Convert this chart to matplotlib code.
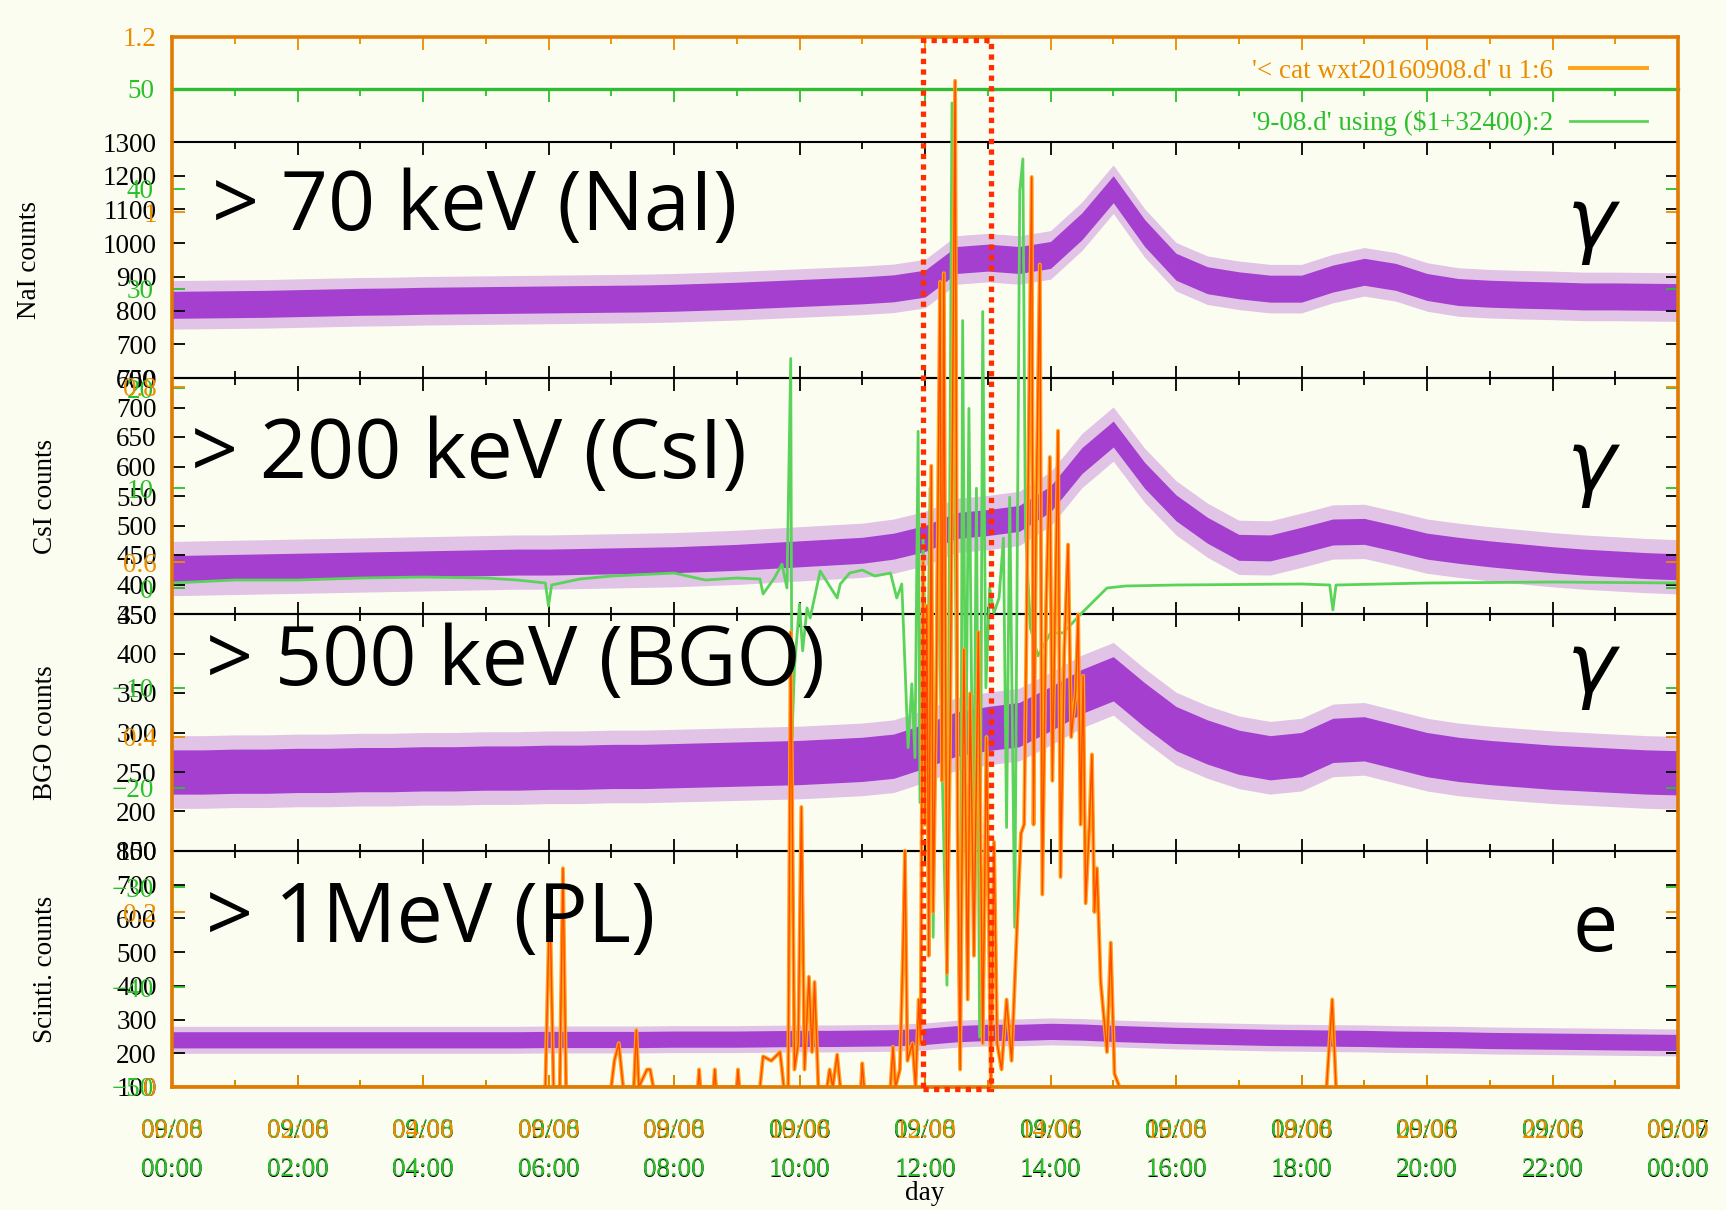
import numpy as np
import matplotlib
matplotlib.use('Agg')
import matplotlib.pyplot as plt
from matplotlib.patches import Rectangle

# --- counts, half-hour grid (0:00 .. 24:00) ---
hours = np.arange(0, 24.5, 0.5)
nai_counts = [817, 818, 819, 820, 822, 824, 826, 827, 829, 830,
              831, 832, 833, 834, 835, 836, 838, 841, 844, 848,
              852, 856, 860, 866, 880, 950, 957, 950, 965, 1050,
              1160, 1030, 930, 890, 875, 865, 865, 895, 915, 900,
              870, 855, 850, 847, 845, 842, 842, 841, 840]
csi_counts = [427, 428, 429, 430, 431, 432, 433, 434, 435, 436,
              437, 438, 438, 439, 440, 441, 442, 444, 446, 449,
              452, 455, 458, 465, 478, 500, 505, 512, 545, 610,
              655, 585, 530, 492, 463, 462, 475, 489, 490, 478,
              465, 458, 452, 447, 442, 438, 435, 432, 430]
bgo_counts = [250, 250, 251, 251, 252, 252, 253, 253, 254, 254,
              255, 255, 256, 256, 257, 257, 258, 259, 260, 261,
              262, 264, 266, 270, 283, 298, 305, 310, 330, 352,
              368, 335, 305, 288, 275, 268, 272, 290, 292, 282,
              272, 266, 262, 259, 256, 254, 252, 250, 249]
pl_counts = [240, 240, 240, 240, 240, 240, 240, 240, 240, 240,
             240, 240, 241, 241, 241, 241, 242, 242, 242, 243,
             244, 244, 245, 246, 250, 258, 262, 262, 265, 263,
             259, 256, 253, 251, 249, 247, 246, 245, 244, 242,
             241, 240, 238, 237, 236, 235, 234, 233, 232]
# scatter of the counts: dense core and spike extent
core_width = [40, 22, 28, 24]
spike_width = [72, 46, 46, 40]

# --- weather station column 6 (hours, value) ---
rain_t = [0.0, 5.95, 6.02, 6.08, 6.18, 6.23, 6.28,
          7.0, 7.05, 7.12, 7.19, 7.36, 7.40, 7.44, 7.57, 7.62, 7.67,
          8.38, 8.40, 8.42, 8.63, 8.65, 8.67, 9.0, 9.02, 9.04,
          9.37, 9.42, 9.55, 9.69, 9.75, 9.82, 9.86, 9.92, 9.98, 10.03,
          10.08, 10.15, 10.2, 10.24, 10.3, 10.44, 10.48, 10.53, 10.6, 10.65,
          10.98, 11.0, 11.03, 11.45, 11.49, 11.53, 11.6, 11.65, 11.68, 11.72,
          11.8, 11.85,
          11.90, 11.93, 11.97, 12.00, 12.03, 12.06, 12.10, 12.13, 12.18, 12.24,
          12.27, 12.30, 12.35, 12.40, 12.48, 12.52, 12.56, 12.62, 12.68, 12.72,
          12.78, 12.85, 12.92, 12.98, 13.05, 13.10, 13.15, 13.22, 13.30, 13.38,
          13.47, 13.53, 13.58, 13.63, 13.70, 13.73, 13.77, 13.83, 13.87, 13.93,
          13.99, 14.03, 14.12, 14.16, 14.22, 14.28, 14.33, 14.40, 14.44, 14.48,
          14.52, 14.56, 14.62, 14.66, 14.70, 14.74, 14.80, 14.90, 14.96, 15.02,
          15.10, 18.40, 18.49, 18.55, 24.0]
rain_v = [0.0, 0.0, 0.22, 0.0, 0.0, 0.25, 0.0,
          0.0, 0.03, 0.05, 0.0, 0.0, 0.065, 0.0, 0.02, 0.02, 0.0,
          0.0, 0.02, 0.0, 0.0, 0.02, 0.0, 0.0, 0.02, 0.0,
          0.0, 0.035, 0.03, 0.04, 0.0, 0.0, 0.52, 0.02, 0.05, 0.32,
          0.02, 0.126, 0.04, 0.12, 0.0, 0.0, 0.02, 0.0, 0.037, 0.0,
          0.0, 0.027, 0.0, 0.0, 0.046, 0.0, 0.02, 0.157, 0.27, 0.03,
          0.05, 0.0,
          0.10, 0.05, 0.60, 0.30, 0.55, 0.15, 0.71, 0.20, 0.45, 0.92,
          0.35, 0.93, 0.13, 0.40, 1.15, 0.30, 0.02, 0.50, 0.10, 0.45,
          0.15, 0.52, 0.05, 0.40, 0.00, 0.28, 0.05, 0.02, 0.10, 0.03,
          0.19, 0.29, 0.30, 0.60, 1.04, 0.30, 0.65, 0.94, 0.22, 0.55,
          0.72, 0.35, 0.75, 0.24, 0.50, 0.62, 0.40, 0.45, 0.54, 0.30,
          0.47, 0.21, 0.30, 0.38, 0.20, 0.25, 0.12, 0.04, 0.165, 0.015,
          0.0, 0.0, 0.10, 0.0, 0.0]

# --- field mill column 2, shifted to JST (hours, value) ---
field_t = [0.0, 1.0, 2.0, 3.0, 4.0, 5.0, 5.5, 5.95, 6.0, 6.05,
           6.5, 7.0, 8.0, 8.5, 9.0, 9.37, 9.42, 9.6, 9.72, 9.80,
           9.86, 9.88, 9.92, 10.0, 10.05, 10.12, 10.17, 10.33, 10.6, 10.65,
           10.8, 11.0, 11.2, 11.45, 11.55, 11.63, 11.68, 11.73, 11.79, 11.84,
           11.89, 11.92, 11.97, 12.03, 12.08, 12.13, 12.20, 12.28, 12.35, 12.43,
           12.50, 12.56, 12.60, 12.65, 12.70, 12.77, 12.82, 12.87, 12.92, 12.97,
           13.03, 13.10, 13.18, 13.25, 13.30, 13.35, 13.43, 13.51, 13.56, 13.60,
           13.68, 13.80, 14.0, 14.2, 14.5, 14.9, 15.2, 16.0, 18.0, 18.45,
           18.5, 18.55, 20.0, 22.0, 24.0]
field_v = [0.5, 0.8, 0.8, 1.0, 1.1, 1.0, 0.8, 0.5, -1.8, 0.3,
           0.9, 1.2, 1.5, 0.8, 1.0, 0.9, -0.6, 1.0, 2.4, 0.0,
           23.0, -15.0, -8.0, -1.6, -6.3, -2.0, -3.0, 1.7, -1.0, 0.4,
           1.5, 1.8, 1.2, 1.5, -1.0, 0.4, -7.6, -16.0, -9.6, -17.0,
           15.7, -21.5, 5.0, -16.6, 10.0, -35.0, 5.0, -20.0, -39.8, 48.6,
           -10.0, -48.0, 26.8, -20.0, 18.0, -29.0, 10.0, -45.0, 27.7, -10.0,
           0.0, -2.5, -1.0, 5.0, -24.0, 9.1, -34.0, 39.8, 43.0, 6.0,
           -4.0, -6.8, -4.5, -4.5, -2.5, 0.0, 0.2, 0.3, 0.4, 0.3,
           -2.2, 0.3, 0.5, 0.6, 0.5]

tick_hours = list(range(0, 25, 2))
tick_times = ['00:00', '02:00', '04:00', '06:00', '08:00', '10:00', '12:00',
              '14:00', '16:00', '18:00', '20:00', '22:00', '00:00']
dates_counts = ['09/06'] * 12 + ['09/07']
dates_field = ['09/08'] * 12 + ['09/09']

panel_names = ['NaI counts', 'CsI counts', 'BGO counts', 'Scinti. counts']
panel_titles = ['> 70 keV (NaI)', '> 200 keV (CsI)', '> 500 keV (BGO)', '> 1MeV (PL)']
particle = ['γ', 'γ', 'γ', 'e']

BG = '#fcfdf1'
PURPLE = '#a43fcf'
GREEN_LINE = '#5bd35b'
GREEN_TXT = '#2cbf2c'
ORANGE = '#ffa31a'
ORANGE_TXT = '#ec8c00'
SERIF = 'Liberation Serif'
FS = 19.5
LSP = 1.75

plt.rcParams['font.family'] = [SERIF, 'DejaVu Serif']

W, H = 1726, 1210
LEFT, RIGHT = 172, 1678


def frame(top, bottom):
    return [LEFT / W, 1 - bottom / H, (RIGHT - LEFT) / W, (bottom - top) / H]


fig = plt.figure(figsize=(W / 100, H / 100), dpi=100)
fig.patch.set_facecolor(BG)

edges = [142, 378, 614, 851, 1087]
ylims = [(600, 1300), (350, 750), (150, 450), (100, 800)]
ysteps = [100, 50, 50, 100]
all_counts = [nai_counts, csi_counts, bgo_counts, pl_counts]
label_x = [30, 46, 46, 46]
title_pos = [(212, 230), (191, 478), (206, 685), (206, 942)]
sym_y = [225, 467, 669, 930]

for i in range(4):
    ax = fig.add_axes(frame(edges[i], edges[i + 1]))
    ax.set_facecolor('none')
    c = np.array(all_counts[i], dtype=float)
    ax.fill_between(hours, c - spike_width[i], c + spike_width[i],
                    color=PURPLE, alpha=0.3, lw=0)
    ax.fill_between(hours, c - core_width[i], c + core_width[i],
                    color=PURPLE, lw=0)
    lo, hi = ylims[i]
    ax.set_xlim(0, 24)
    ax.set_ylim(lo, hi)
    ax.set_yticks(np.arange(lo, hi + 1, ysteps[i]))
    ax.set_xticks(tick_hours)
    ax.set_xticks(range(25), minor=True)
    ax.tick_params(which='both', direction='in', top=True, right=True,
                   width=1.3, colors='black', labelsize=FS)
    ax.tick_params(which='major', length=9)
    ax.tick_params(which='minor', length=5)
    ax.tick_params(axis='y', pad=11)
    for sp in ax.spines.values():
        sp.set_linewidth(1.5)
    if i == 3:
        ax.set_xticklabels([f'{d}\n{t}' for d, t in zip(dates_counts, tick_times)],
                           linespacing=LSP)
        ax.tick_params(axis='x', pad=23)
    else:
        ax.tick_params(axis='x', labelbottom=False)

    yc = (edges[i] + edges[i + 1]) / 2
    fig.text(label_x[i] / W, 1 - yc / H, panel_names[i], rotation=90,
             ha='center', va='center', fontsize=FS)
    tx, ty = title_pos[i]
    fig.text(tx / W, 1 - ty / H, panel_titles[i], family='Open Sans',
             fontsize=59.5, ha='left', va='baseline', color='black')
    if particle[i] == 'e':
        fig.text(1595 / W, 1 - sym_y[i] / H, 'e', family='Open Sans',
                 fontsize=58, ha='center', va='center')
    else:
        fig.text(1591 / W, 1 - sym_y[i] / H, particle[i], family='DejaVu Sans',
                 style='italic', fontsize=60, ha='center', va='center')

# field mill layer
ax_g = fig.add_axes(frame(89, 1087))
ax_g.set_facecolor('none')
ax_g.plot(field_t, field_v, color=GREEN_LINE, lw=2.0,
          label="'9-08.d' using (\\$1+32400):2")
ax_g.set_xlim(0, 24)
ax_g.set_ylim(-50, 50)
ax_g.set_yticks(range(-50, 51, 10))
ax_g.set_xticks(tick_hours)
ax_g.set_xticks(range(25), minor=True)
ax_g.set_xticklabels([f'{d}\n{t}' for d, t in zip(dates_field, tick_times)],
                     linespacing=LSP)
ax_g.tick_params(which='both', direction='in', top=True, right=True,
                 colors=GREEN_TXT, width=1.3, labelsize=FS)
ax_g.tick_params(which='major', length=9)
ax_g.tick_params(which='minor', length=5)
ax_g.tick_params(axis='y', pad=13)
ax_g.tick_params(axis='x', pad=22)
for sp in ax_g.spines.values():
    sp.set_color('#33bb33')
    sp.set_linewidth(1.3)
ax_g.spines['top'].set_linewidth(2.4)
ax_g.legend(loc='center right', bbox_to_anchor=(1647 / W, 1 - 123 / H),
            bbox_transform=fig.transFigure, frameon=False, borderpad=0,
            borderaxespad=0, handlelength=2.85, handletextpad=0.6,
            markerfirst=False, labelcolor=GREEN_TXT,
            prop={'family': SERIF, 'size': FS})

# weather station layer
ax_o = fig.add_axes(frame(37, 1087))
ax_o.set_facecolor('none')
ax_o.plot(rain_t, rain_v, color=ORANGE, lw=2.8,
          label="'< cat wxt20160908.d' u 1:6")
ax_o.plot(rain_t, rain_v, color='#ff4a00', lw=1.0)
ax_o.set_xlim(0, 24)
ax_o.set_ylim(0, 1.2)
ax_o.set_yticks([0, 0.2, 0.4, 0.6, 0.8, 1.0, 1.2])
ax_o.set_yticklabels(['0', '0.2', '0.4', '0.6', '0.8', '1', '1.2'])
ax_o.set_xticks(tick_hours)
ax_o.set_xticks(range(25), minor=True)
ax_o.set_xticklabels(tick_times)
ax_o.tick_params(which='both', direction='in', top=True, right=True,
                 colors=ORANGE_TXT, width=1.3, labelsize=FS)
ax_o.tick_params(which='major', length=9)
ax_o.tick_params(which='minor', length=5)
ax_o.tick_params(axis='y', pad=11)
ax_o.tick_params(axis='x', pad=23)
for sp in ax_o.spines.values():
    sp.set_color('#e07a00')
    sp.set_linewidth(2.6)
ax_o.legend(loc='center right', bbox_to_anchor=(1647 / W, 1 - 71 / H),
            bbox_transform=fig.transFigure, frameon=False, borderpad=0,
            borderaxespad=0, handlelength=2.85, handletextpad=0.6,
            markerfirst=False, labelcolor=ORANGE_TXT,
            prop={'family': SERIF, 'size': FS})

# storm interval
ax_o.add_patch(Rectangle((11.97, -0.002), 1.08, 1.199, fill=False,
                         ec='#ff2d00', lw=3.8, ls=(0, (1, 1)), clip_on=False,
                         zorder=10))

fig.text(925 / W, 1 - 1194 / H, 'day', ha='center', va='center', fontsize=FS)

fig.savefig('out.png', dpi=100, facecolor=BG)
